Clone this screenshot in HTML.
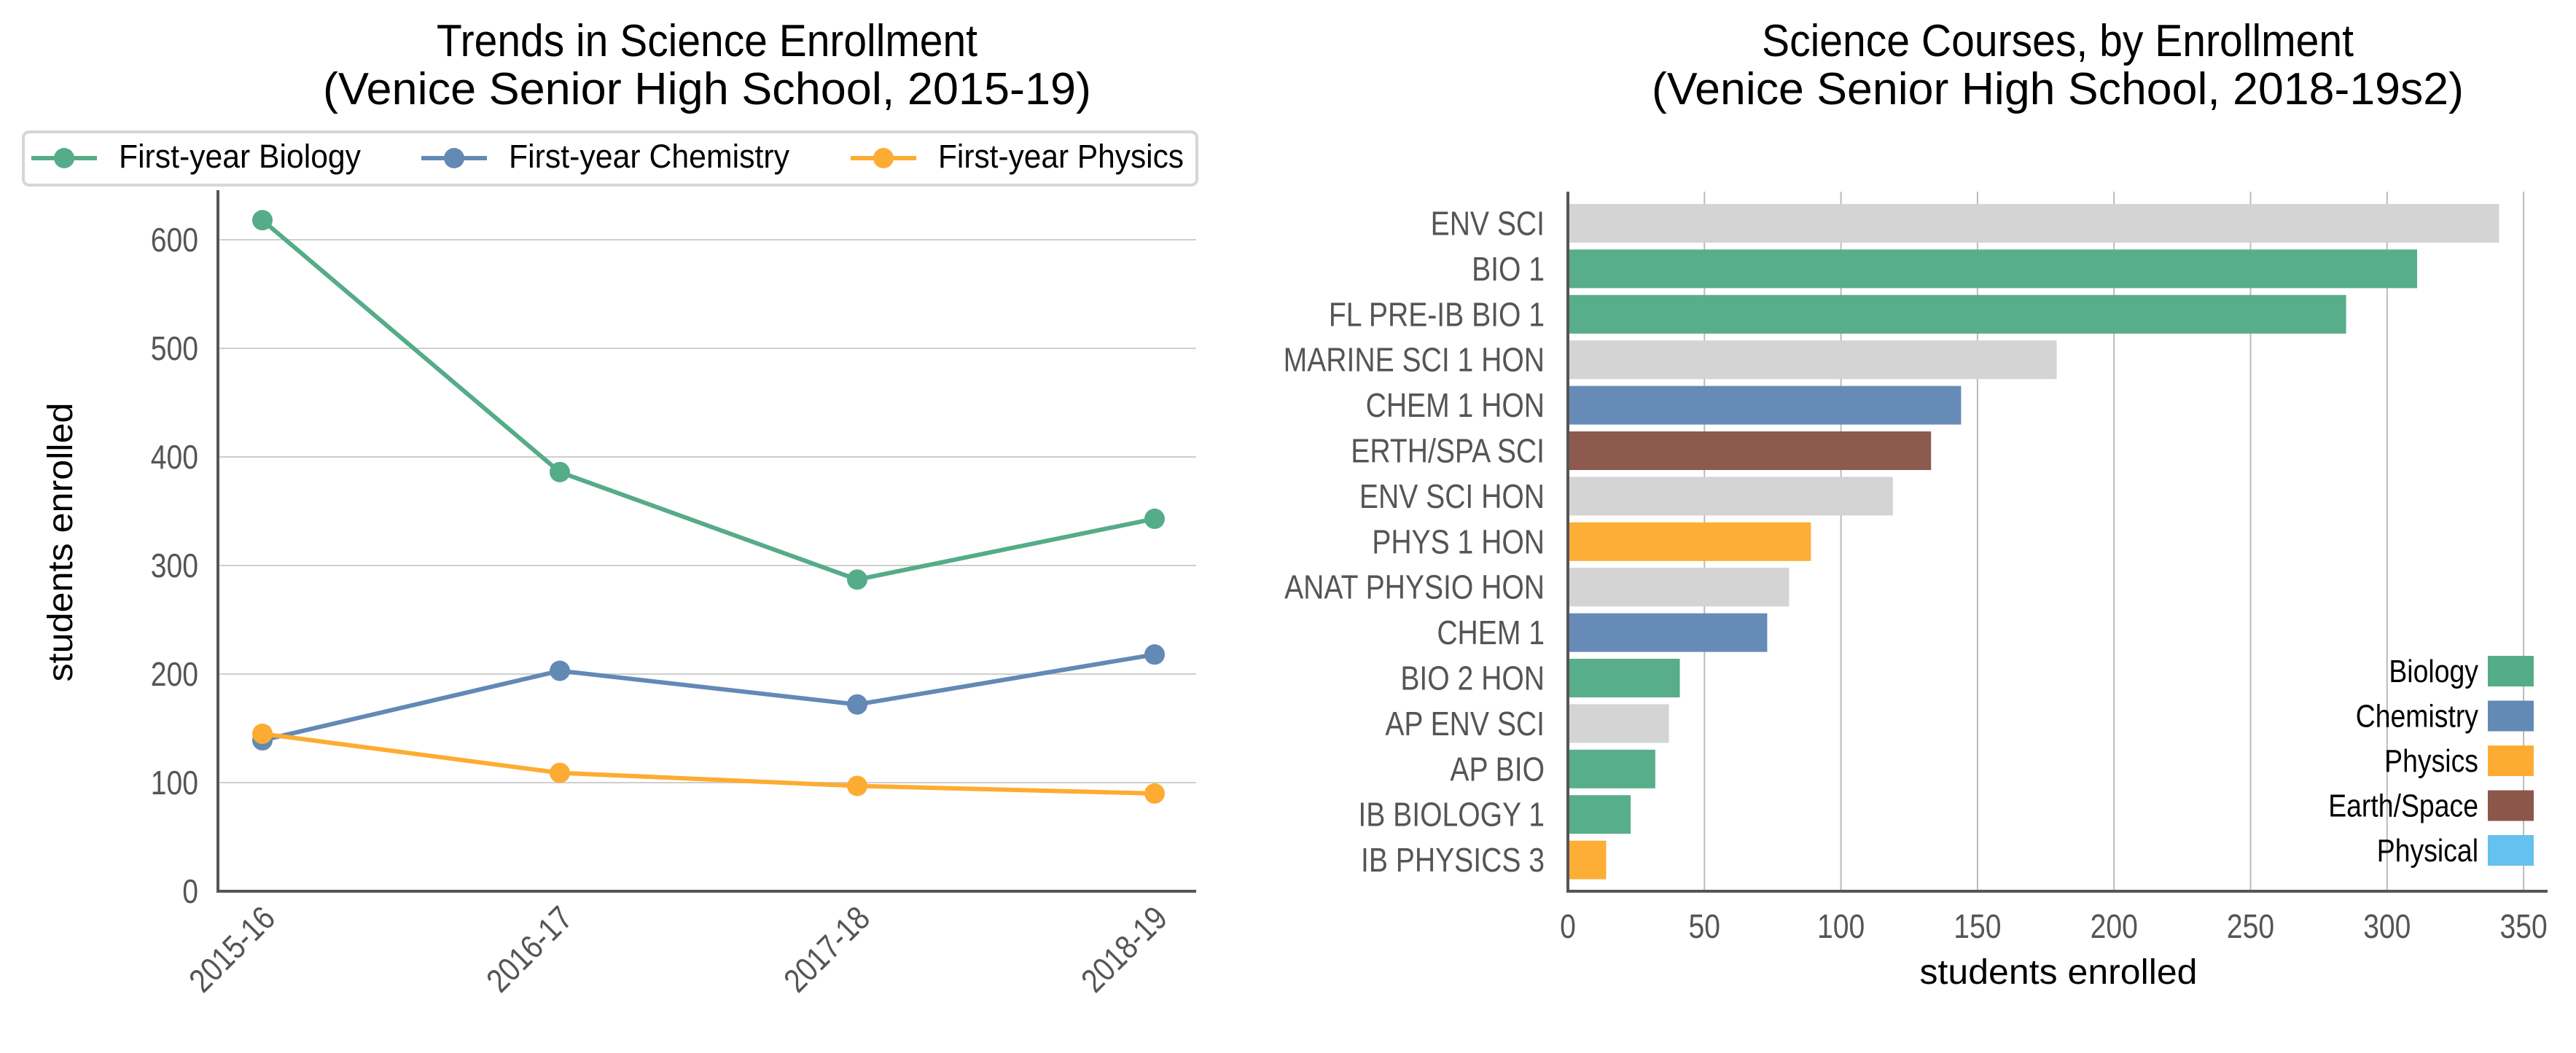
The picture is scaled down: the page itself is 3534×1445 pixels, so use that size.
<!DOCTYPE html>
<html><head><meta charset="utf-8"><style>
body{margin:0;background:#fff}
svg{display:block;font-family:"Liberation Sans",sans-serif}
</style></head><body>
<svg id="s" width="3534" height="1445" viewBox="0 0 3534 1445" xmlns="http://www.w3.org/2000/svg">
<text x="970" y="77" font-size="62" text-anchor="middle" fill="#000" textLength="742" lengthAdjust="spacingAndGlyphs">Trends in Science Enrollment</text>
<text x="970" y="143" font-size="62" text-anchor="middle" fill="#000" textLength="1054" lengthAdjust="spacingAndGlyphs">(Venice Senior High School, 2015-19)</text>
<text x="2823" y="77" font-size="62" text-anchor="middle" fill="#000" textLength="812" lengthAdjust="spacingAndGlyphs">Science Courses, by Enrollment</text>
<text x="2823" y="143" font-size="62" text-anchor="middle" fill="#000" textLength="1114" lengthAdjust="spacingAndGlyphs">(Venice Senior High School, 2018-19s2)</text>
<g id="left"></g>
<g id="right"></g>
</svg>
<script>
// Line chart data
const years = ["2015-16","2016-17","2017-18","2018-19"];
const biology = [618,386,287,343];
const chemistry = [139,203,172,218];
const physics = [145,109,97,90];
const yTicks = [0,100,200,300,400,500,600];
// Bar chart data
const courses = ["ENV SCI","BIO 1","FL PRE-IB BIO 1","MARINE SCI 1 HON","CHEM 1 HON","ERTH/SPA SCI","ENV SCI HON","PHYS 1 HON","ANAT PHYSIO HON","CHEM 1","BIO 2 HON","AP ENV SCI","AP BIO","IB BIOLOGY 1","IB PHYSICS 3"];
const enrolled = [341,311,285,179,144,133,119,89,81,73,41,37,32,23,14];
const subjects = ["other","Biology","Biology","other","Chemistry","Earth/Space","other","Physics","other","Chemistry","Biology","other","Biology","Biology","Physics"];
const xTicks = [0,50,100,150,200,250,300,350];
const legendSubjects = ["Biology","Chemistry","Physics","Earth/Space","Physical"];

const NS="http://www.w3.org/2000/svg";
const colors={"Biology":"#55ac88","Chemistry":"#6389b5","Physics":"#fdac33","Earth/Space":"#8b574a","Physical":"#64c1f0","other":"#d3d3d3"};
function mk(tag,attrs,parent,text){const e=document.createElementNS(NS,tag);for(const k in attrs)e.setAttribute(k,attrs[k]);if(text!==undefined)e.textContent=text;parent.appendChild(e);return e;}
const SX=0.85;

// ---- left line chart ----
const L=document.getElementById('left');
const lx0=299,lx1=1641,ly0=1223,lyTop=261;
const yS=v=>ly0-v*1.49;
const xS=i=>360+i*408;
yTicks.forEach(t=>{
  if(t>0){const g=mk('line',{x1:lx0,x2:lx1,y1:yS(t),y2:yS(t),stroke:'#cfcfcf','stroke-width':2},L);
  
  }
  const tx=mk('text',{x:0,y:0,'font-size':46,'text-anchor':'end',fill:'#555',transform:`translate(${lx0-27},${yS(t)+16}) scale(${SX},1)`},L,String(t));
  
  
});
let a=mk('path',{d:`M${lx0},${lyTop}V${ly0}H${lx1}`,fill:'none',stroke:'#555','stroke-width':4},L);


years.forEach((y,i)=>{
  const t=mk('text',{x:0,y:0,'font-size':46,'text-anchor':'end',fill:'#555',transform:`translate(${xS(i)+20},${ly0+40}) rotate(-45) scale(${SX},1)`},L,y);
  
  
});
let yl=mk('text',{x:0,y:0,'font-size':48,'text-anchor':'middle',fill:'#000',textLength:383,lengthAdjust:'spacingAndGlyphs',transform:'translate(99,744) rotate(-90)'},L,'students enrolled');


const series=[["biology",biology,colors.Biology],["chemistry",chemistry,colors.Chemistry],["physics",physics,colors.Physics]];
series.forEach(([n,vals,c])=>{
  const p=mk('polyline',{points:vals.map((v,i)=>xS(i)+','+yS(v)).join(' '),fill:'none',stroke:c,'stroke-width':6},L);
  
  
  vals.forEach((v,i)=>{
    const d=mk('circle',{cx:xS(i),cy:yS(v),r:14,fill:c},L);
    
    
  });
});
// legend
let lb=mk('rect',{x:32,y:181,width:1610,height:73,rx:8,fill:'#fff',stroke:'#d6d6d6','stroke-width':4},L);


const legNames=["First-year Biology","First-year Chemistry","First-year Physics"];
const legX=[43,578,1167];
const legTx=[163,698,1287];
const legW=[332,385,337];
legNames.forEach((n,i)=>{
  const c=series[i][2];
  const ln=mk('line',{x1:legX[i],x2:legX[i]+90,y1:217,y2:217,stroke:c,'stroke-width':6},L);
  
  
  const m=mk('circle',{cx:legX[i]+45,cy:217,r:14,fill:c},L);
  
  
  const t=mk('text',{x:legTx[i],y:230,'font-size':45,fill:'#000',textLength:legW[i],lengthAdjust:'spacingAndGlyphs'},L,n);
  
  
});

// ---- right bar chart ----
const R=document.getElementById('right');
const bx0=2151,bx1=3495,by0=1223,byTop=263;
const bS=v=>bx0+v*3.746;
const rowY=i=>306.5+i*62.4;
xTicks.forEach(t=>{
  if(t>0){const g=mk('line',{x1:bS(t),x2:bS(t),y1:byTop,y2:by0,stroke:'#bbb','stroke-width':2},R);
  
  }
  const tx=mk('text',{x:0,y:0,'font-size':46,'text-anchor':'middle',fill:'#555',transform:`translate(${bS(t)},1287) scale(${SX},1)`},R,String(t));
  
  
});
courses.forEach((c,i)=>{
  const r=mk('rect',{x:bx0,y:rowY(i)-26.5,width:bS(enrolled[i])-bx0,height:53,fill:colors[subjects[i]],'fill-opacity':0.98},R);
  
  
  const t=mk('text',{x:0,y:0,'font-size':46,'text-anchor':'end',fill:'#555',transform:`translate(2119,${rowY(i)+16}) scale(${SX},1)`},R,c);
  
  
});
let ax=mk('path',{d:`M${bx0},${byTop}V${by0}H${bx1}`,fill:'none',stroke:'#555','stroke-width':4},R);


let xl=mk('text',{x:2824,y:1350,'font-size':48,'text-anchor':'middle',fill:'#000',textLength:381,lengthAdjust:'spacingAndGlyphs'},R,'students enrolled');


legendSubjects.forEach((s,i)=>{
  const cy=921+i*61.5;
  const sw=mk('rect',{x:3413,y:cy-21,width:63,height:42,fill:colors[s]},R);
  
  
  const t=mk('text',{x:0,y:0,'font-size':44,'text-anchor':'end',fill:'#000',transform:`translate(3400,${cy+15}) scale(${SX},1)`},R,s);
  
  
});
</script>
</body></html>
